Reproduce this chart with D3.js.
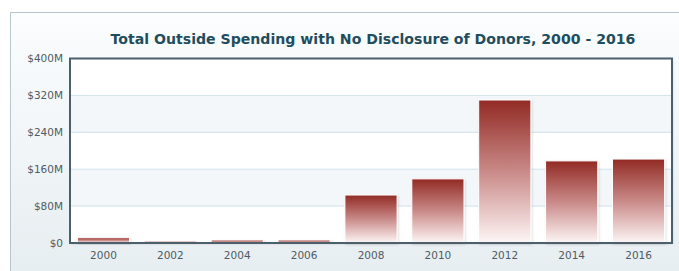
<!DOCTYPE html>
<html>
<head>
<meta charset="utf-8">
<script src="https://cdn.jsdelivr.net/npm/d3@7"></script>
<style>
  body { margin: 0; background: #fff; }
  svg { display: block; }
</style>
</head>
<body>
<svg width="679" height="271"></svg>
<script>
const years = ['2000', '2002', '2004', '2006', '2008', '2010', '2012', '2014', '2016'];
const spending = [11.5, 4, 6.5, 6.5, 104, 139, 310, 178, 182]; // $M
const yTicks = [0, 80, 160, 240, 320, 400];

const W = 679, H = 271;
const margin = {top: 58.5, left: 70, right: 7, bottom: 28};

const svg = d3.select('svg');
const defs = svg.append('defs');

const bg = defs.append('linearGradient').attr('id', 'bg')
  .attr('x1', 0).attr('y1', 0).attr('x2', 0).attr('y2', 1);
bg.append('stop').attr('offset', 0).attr('stop-color', '#fbfdfe');
bg.append('stop').attr('offset', 1).attr('stop-color', '#e6edf0');

const barGrad = defs.append('linearGradient').attr('id', 'bar')
  .attr('x1', 0).attr('y1', 0).attr('x2', 0).attr('y2', 1);
barGrad.append('stop').attr('offset', 0).attr('stop-color', '#922a24');
barGrad.append('stop').attr('offset', 0.5).attr('stop-color', '#c98a88');
barGrad.append('stop').attr('offset', 1).attr('stop-color', '#fdf6f6');

const shadow = defs.append('filter').attr('id', 'shadow')
  .attr('x', '-10%').attr('y', '-10%').attr('width', '130%').attr('height', '130%');
shadow.append('feDropShadow')
  .attr('dx', 1).attr('dy', 1).attr('stdDeviation', 0.8)
  .attr('flood-color', '#000').attr('flood-opacity', 0.15);

// outer panel
svg.append('rect')
  .attr('x', 10.5).attr('y', 12.5)
  .attr('width', W).attr('height', H)
  .attr('fill', 'url(#bg)')
  .attr('stroke', '#b9c6cd').attr('stroke-width', 1);

svg.append('text')
  .attr('x', 373).attr('y', 44)
  .attr('text-anchor', 'middle')
  .attr('font-family', 'Verdana, "DejaVu Sans", sans-serif')
  .attr('font-weight', 'bold')
  .attr('font-size', 14.1)
  .attr('fill', '#1f4d5e')
  .text('Total Outside Spending with No Disclosure of Donors, 2000 - 2016');

const x0 = margin.left, x1 = W - margin.right;
const y0 = H - margin.bottom, y1 = margin.top;

const x = d3.scaleBand().domain(years).range([x0, x1]).paddingInner(0.22).paddingOuter(0.11);
const y = d3.scaleLinear().domain([0, 400]).range([y0, y1]);

// plot background with alternating bands
const plot = svg.append('g');
plot.append('rect')
  .attr('x', x0).attr('y', y1).attr('width', x1 - x0).attr('height', y0 - y1)
  .attr('fill', '#ffffff')
  .attr('filter', 'url(#shadow)');
plot.selectAll('rect.band')
  .data(yTicks.slice(0, -1).filter((d, i) => i % 2 === 1))
  .join('rect')
  .attr('class', 'band')
  .attr('x', x0).attr('width', x1 - x0)
  .attr('y', d => y(d + 80)).attr('height', d => y(d) - y(d + 80))
  .attr('fill', '#f3f7f9');
plot.selectAll('line.grid')
  .data(yTicks.slice(1, -1))
  .join('line')
  .attr('class', 'grid')
  .attr('x1', x0).attr('x2', x1)
  .attr('y1', d => y(d)).attr('y2', d => y(d))
  .attr('stroke', '#cfe2ec').attr('stroke-width', 1);

// bars
svg.append('g').selectAll('rect')
  .data(years.map((yr, i) => ({yr, v: spending[i]})))
  .join('rect')
  .attr('x', d => x(d.yr))
  .attr('y', d => y(d.v))
  .attr('width', x.bandwidth())
  .attr('height', d => y0 - y(d.v))
  .attr('fill', 'url(#bar)')
  .attr('stroke', '#ffffff').attr('stroke-width', 1)
  .attr('filter', 'url(#shadow)');

// plot frame
svg.append('rect')
  .attr('x', x0).attr('y', y1).attr('width', x1 - x0).attr('height', y0 - y1)
  .attr('fill', 'none')
  .attr('stroke', '#4b5f6d').attr('stroke-width', 2);

// axes
const yAxis = d3.axisLeft(y).tickValues(yTicks).tickSize(0).tickPadding(6)
  .tickFormat(d => d === 0 ? '$0' : '$' + d + 'M');
const gy = svg.append('g').attr('transform', `translate(${x0 - 1},0)`).call(yAxis);

const xAxis = d3.axisBottom(x).tickSize(0).tickPadding(9);
const gx = svg.append('g').attr('transform', `translate(0,${y0})`).call(xAxis);

[gx, gy].forEach(g => {
  g.select('.domain').remove();
  g.selectAll('text')
    .attr('font-family', 'Verdana, "DejaVu Sans", sans-serif')
    .attr('font-size', 10.5)
    .attr('fill', '#4f5b63');
});
</script>
</body>
</html>
